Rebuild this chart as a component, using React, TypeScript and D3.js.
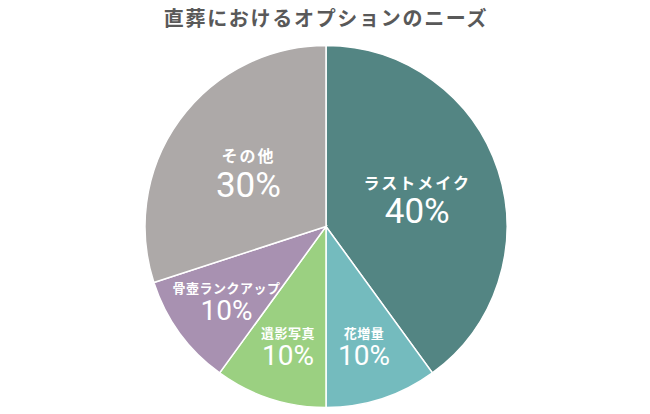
import React from "react";
import * as d3 from "d3";

const categories = ["ラストメイク", "花増量", "遺影写真", "骨壺ランクアップ", "その他"];
const values = [40, 10, 10, 10, 30];
const colors = ["#538583", "#74BBBE", "#9BD081", "#A891B1", "#ADA9A8"];
const title = "直葬におけるオプションのニーズ";

const W = 650;
const H = 414;
const cx = 326;
const cy = 226.5;
const R = 181;

export default function App() {
  const pie = d3.pie<number>().sort(null).value((d) => d);
  const arcs = pie(values);
  const arcGen = d3.arc<d3.PieArcDatum<number>>().innerRadius(0).outerRadius(R);
  const font = "'Noto Sans CJK JP', 'Noto Sans', sans-serif";
  const numFont = "Roboto, 'Noto Sans', sans-serif";
  return (
    <svg width={W} height={H} style={{ position: "absolute", left: 0, top: 0 }}>
      <rect width={W} height={H} fill="#ffffff" />
      <text
        x={W / 2 + 1}
        y={17.5}
        textAnchor="middle"
        dominantBaseline="central"
        fontFamily={font}
        fontWeight={700}
        fontSize={20}
        letterSpacing={1.7}
        fill="#595959"
      >
        {title}
      </text>
      <g transform={`translate(${cx},${cy})`}>
        {arcs.map((a, i) => (
          <path key={i} d={arcGen(a) || ""} fill={colors[i]} stroke="#ffffff" strokeWidth={1.5} />
        ))}
        {arcs.map((a, i) => {
          const big = a.data >= 30;
          const lr = big ? R * 0.53 : R * 0.68;
          const lab = d3.arc<d3.PieArcDatum<number>>().innerRadius(lr).outerRadius(lr);
          const [x, y] = lab.centroid(a);
          return (
            <g key={"l" + i} transform={`translate(${x},${y})`} fill="#ffffff" textAnchor="middle">
              <text
                y={big ? -15 : -11.5}
                fontFamily={font}
                fontSize={big ? 16 : 13}
                letterSpacing={big ? 2 : 0.5}
                fontWeight={700}
                dominantBaseline="central"
              >
                {categories[i]}
              </text>
              <text
                y={big ? 15 : 12}
                fontFamily={numFont}
                fontSize={big ? 35 : 28}
                fontWeight={400}
                dominantBaseline="central"
              >
                {values[i]}%
              </text>
            </g>
          );
        })}
      </g>
    </svg>
  );
}
